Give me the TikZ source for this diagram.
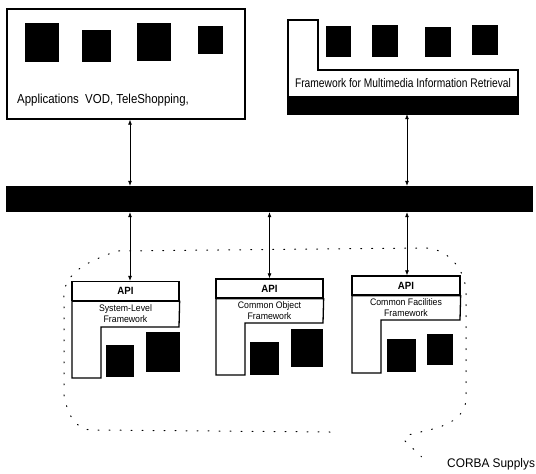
\documentclass[tikz,border=0pt]{standalone}
\usepackage{fontspec}
\usetikzlibrary{arrows.meta}
\newfontfamily\nfA[FakeStretch=0.88]{Liberation Sans}
\newfontfamily\nfB[FakeStretch=0.82]{Liberation Sans}
\newfontfamily\nfC[FakeStretch=0.92]{Liberation Sans}
\newfontfamily\nfD[FakeStretch=0.95]{Liberation Sans}
\begin{document}
\begin{tikzpicture}[x=1pt,y=-1pt,
  boxline/.style={draw=black,line width=1.3pt},
  blk/.style={fill=black,draw=none},
  arr/.style={{Latex[length=5pt,width=4pt]}-{Latex[length=5pt,width=4pt]},line width=0.7pt},
  apihead/.style={boxline,minimum width=#1,minimum height=19pt,inner sep=0pt,font=\nfC\fontsize{10.5}{12}\selectfont\bfseries},
  fwtext/.style={font=\nfC\fontsize{9.5}{11.5}\selectfont,align=center,inner sep=0pt},
  dotline/.style={line width=1pt,dash pattern=on 1pt off 10pt,line cap=round}]
\useasboundingbox (0,0) rectangle (536,474);

% top-left application box
\node[boxline,minimum width=238pt,minimum height=110pt,inner sep=0pt] (apps) at (126,64) {};
\fill[blk] (25,23) rectangle (59,62);
\fill[blk] (82,30) rectangle (111,62);
\fill[blk] (137,23) rectangle (171,61);
\fill[blk] (198,26) rectangle (223,54);
\node[anchor=base west,inner sep=0pt,font=\nfA\fontsize{13}{15}\selectfont] (appstext) at (17,103) {Applications\ \ VOD, TeleShopping,};

% top-right multimedia framework box
\draw[boxline] (288,20) -- (318,20) -- (318,70) -- (518,70) -- (518,114) -- (288,114) -- cycle;
\fill[blk] (288,96) rectangle (518,114);
\fill[blk] (326,26) rectangle (351,57);
\fill[blk] (372,25) rectangle (398,57);
\fill[blk] (425,27) rectangle (451,57);
\fill[blk] (472,25) rectangle (498,55);
\node[inner sep=0pt,minimum width=230pt,minimum height=44pt] (mmf) at (403,92) {};
\node[anchor=base,inner sep=0pt,font=\nfB\fontsize{12.5}{14}\selectfont] (mmftext) at (403,87) {Framework for Multimedia Information Retrieval};

% bus
\node[blk,minimum width=527pt,minimum height=26pt,inner sep=0pt] (bus) at (269.5,199) {};

% lower framework boxes
\node[apihead=107pt] (api1) at (125.5,291) {API};
\draw[boxline] (api1.south west) -- (api1.south east) -- (179,327) -- (101,327) -- (101,378) -- (72,378) -- (72,301);
\node[fwtext] (fw1) at (125.5,313.5) {System-Level\\Framework};
\fill[blk] (106,345) rectangle (134,377);
\fill[blk] (146,332) rectangle (180,372);

\node[apihead=107pt] (api2) at (269.5,288.5) {API};
\draw[boxline] (api2.south west) -- (api2.south east) -- (323,323) -- (245,323) -- (245,375) -- (216,375) -- (216,298);
\node[fwtext] (fw2) at (269.5,310.5) {Common Object\\Framework};
\fill[blk] (250,342) rectangle (279,375);
\fill[blk] (291,329) rectangle (323,367);

\node[apihead=108pt] (api3) at (406,285.5) {API};
\draw[boxline] (api3.south west) -- (api3.south east) -- (460,320) -- (381,320) -- (381,373) -- (352,373) -- (352,295);
\node[fwtext] (fw3) at (406,307.5) {Common Facilities\\Framework};
\fill[blk] (387,339) rectangle (416,372);
\fill[blk] (427,334) rectangle (453,365);

% connectors
\coordinate (c1) at (130,0);
\coordinate (c2) at (407,0);
\draw[arr] (apps.south -| c1) -- (bus.north -| c1);
\draw[arr] (mmf.south -| c2) -- (bus.north -| c2);
\draw[arr] (bus.south -| c1) -- (api1.north -| c1);
\draw[arr] (bus.south -| api2.north) -- (api2.north);
\draw[arr] (bus.south -| c2) -- (api3.north -| c2);

% dotted boundary with pointer
\draw[dotline] (330,432) -- (92,430) to[out=180,in=280] (64,395) -- (64,300)
  to[out=95,in=200] (117,251) -- (420,248) to[out=5,in=95] (466,290) -- (466,400)
  to[out=265,in=20] (437,428) -- (408,435) -- (404,440) -- (428,463);
\node[anchor=base west,inner sep=0pt,font=\nfD\fontsize{12.5}{14}\selectfont] (corba) at (447,467) {CORBA Supplys};
\end{tikzpicture}
\end{document}
